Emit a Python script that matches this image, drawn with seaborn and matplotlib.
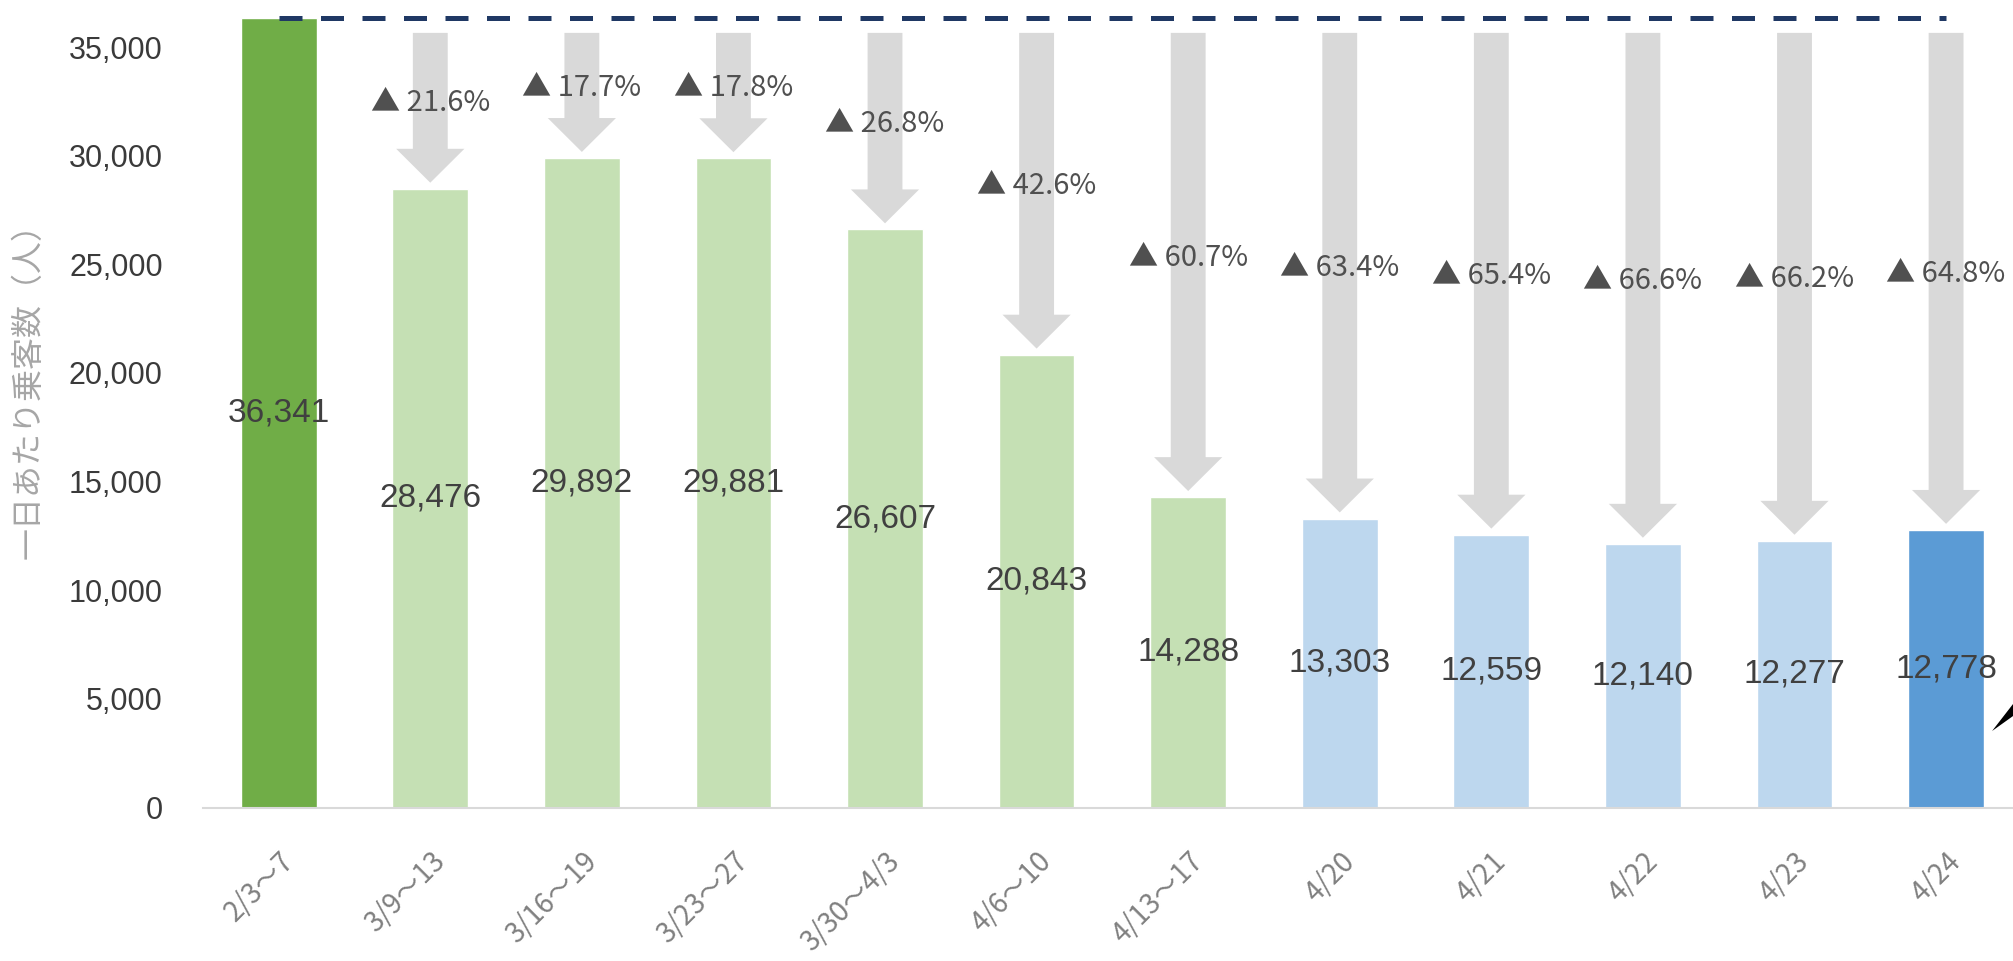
import matplotlib
matplotlib.use("Agg")
import matplotlib.pyplot as plt
from matplotlib.patches import Polygon
import seaborn as sns

# Data
periods = ["2/3～7", "3/9～13", "3/16～19", "3/23～27", "3/30～4/3", "4/6～10",
           "4/13～17", "4/20", "4/21", "4/22", "4/23", "4/24"]
riders = [36341, 28476, 29892, 29881, 26607, 20843, 14288, 13303, 12559, 12140, 12277, 12778]
drop_pct = [None, 21.6, 17.7, 17.8, 26.8, 42.6, 60.7, 63.4, 65.4, 66.6, 66.2, 64.8]
bar_colors = ["#70ad47"] + ["#c5e0b4"] * 6 + ["#bdd7ee"] * 4 + ["#5b9bd5"]

sns.set_style("white")
plt.rcParams["font.family"] = ["Liberation Sans", "Noto Sans CJK JP", "DejaVu Sans"]

fig = plt.figure(figsize=(20.13, 9.61), dpi=100)
ax = fig.add_axes([0.1008, 0.1596, 0.9036, 0.8367])

sns.barplot(x=periods, y=riders, hue=periods, palette=bar_colors, legend=False,
            width=0.5, saturation=1, ax=ax, zorder=2)

base = riders[0]
ax.set_xlim(-0.5, len(periods) - 0.5)
ax.set_ylim(0, 37000)

# baseline reference (dashed) line at the first period level
ax.plot([0, len(periods) - 1], [base, base], color="#1f3864", lw=3.6,
        dashes=(4.6, 3.7), zorder=4)

# grey drop arrows + percentage labels
for i, (v, p) in enumerate(zip(riders, drop_pct)):
    ax.text(i, v / 2, f"{v:,}", ha="center", va="center", fontsize=24,
            color="#404040", zorder=5)
    if p is None:
        continue
    top = 35650
    end = v + 280
    ax.arrow(i, top, 0, end - top, width=0.23, head_width=0.45,
             head_length=1560, length_includes_head=True,
             color="#d9d9d9", lw=0, zorder=3)
    ax.text(i, (v + base) / 2, f"▲ {p:.1f}%", ha="center", va="center",
            fontsize=21, color="#505050", zorder=5,
            family=["Noto Sans CJK JP", "DejaVu Sans"])

# axes styling
for s in ["top", "right", "left"]:
    ax.spines[s].set_visible(False)
ax.spines["bottom"].set_color("#d9d9d9")
ax.spines["bottom"].set_linewidth(1.5)

ax.set_yticks(range(0, 35001, 5000))
ax.set_yticklabels([f"{t:,}" for t in range(0, 35001, 5000)])
ax.tick_params(axis="y", length=0, pad=29, labelsize=22, labelcolor="#3a3a3a")

ax.set_xticks(range(len(periods)))
ax.set_xticklabels(periods, rotation=45, ha="right", va="top",
                   rotation_mode="anchor", fontsize=20, color="#808080",
                   family=["Noto Sans CJK JP", "DejaVu Sans"])
ax.tick_params(axis="x", length=0, pad=28)
ax.set_xticks([i - 0.5 for i in range(len(periods) + 1)], minor=True)
ax.tick_params(axis="x", which="minor", length=7, width=1.2, color="#d9d9d9",
               direction="out")
ax.set_xlabel("")

ax.set_ylabel("一日あたり乗客数（人）", fontsize=23, color="#a6a6a6",
              family=["Noto Sans CJK JP", "DejaVu Sans"])
ax.yaxis.set_label_coords(-0.0869, 0.528)
ax.grid(False)

# cut-off callout pointer at the right edge
fig.patches.append(Polygon([(0.9896, 0.2393), (1.0, 0.2674), (1.0, 0.2549)],
                           closed=True, transform=fig.transFigure,
                           facecolor="black", edgecolor="none"))

fig.savefig("out.png", dpi=100)
